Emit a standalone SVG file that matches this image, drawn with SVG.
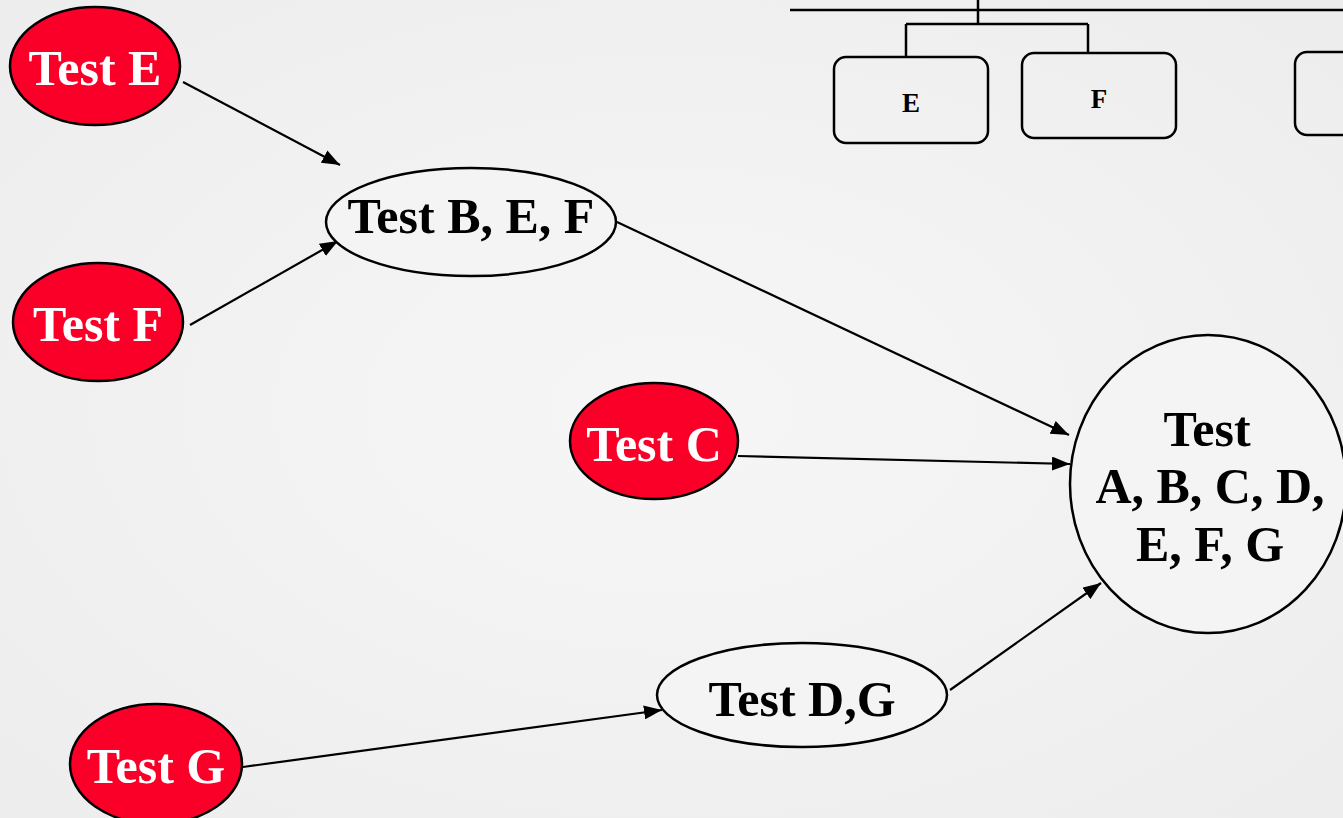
<svg xmlns="http://www.w3.org/2000/svg" width="1343" height="818" viewBox="0 0 1343 818">
<style>
.red{fill:#fa0029;stroke:#000;stroke-width:2.5}
.white{fill:#f4f4f4;stroke:#000;stroke-width:2.5}
.tw{font-family:"Liberation Serif","Times New Roman",serif;font-weight:bold;font-size:50px;fill:#fff;text-anchor:middle}
.tb{font-family:"Liberation Serif","Times New Roman",serif;font-weight:bold;font-size:50px;fill:#000;text-anchor:middle}
.ts{font-family:"Liberation Serif","Times New Roman",serif;font-weight:bold;font-size:27px;fill:#000;text-anchor:middle}
.edge{stroke:#000;stroke-width:2.2;fill:none;marker-end:url(#arr)}
.ln{stroke:#000;stroke-width:2.5;fill:none}
.box{fill:none;stroke:#000;stroke-width:2.5}
</style>
<defs>
<radialGradient id="bg" cx="0.5" cy="0.5" r="0.7">
<stop offset="0" stop-color="#f6f6f6"/>
<stop offset="1" stop-color="#ededed"/>
</radialGradient>
<marker id="arr" markerWidth="18" markerHeight="14" refX="18" refY="7" orient="auto" markerUnits="userSpaceOnUse">
<path d="M0,0 L18,7 L0,14 Z" fill="#000"/>
</marker>
</defs>
<rect width="1343" height="818" fill="url(#bg)"/>
<g id="tree">
<path class="ln" d="M790,10 H1343 M978,0 V24 M906,24 H1088 M906,24 V56 M1088,24 V53"/>
<rect class="box" x="834" y="57" width="154" height="86" rx="12"/>
<rect class="box" x="1022" y="53" width="154" height="85" rx="12"/>
<rect class="box" x="1295" y="52" width="70" height="83" rx="12"/>
<text class="ts" x="911" y="112">E</text>
<text class="ts" x="1099" y="108">F</text>
</g>
<g id="connectors">
<line class="edge" x1="183" y1="82" x2="340" y2="165"/>
<line class="edge" x1="190" y1="325" x2="338" y2="241"/>
<line class="edge" x1="617" y1="222" x2="1069" y2="435"/>
<line class="edge" x1="738" y1="456" x2="1070" y2="464"/>
<line class="edge" x1="243" y1="767" x2="662" y2="710"/>
<line class="edge" x1="950" y1="690" x2="1101" y2="583"/>
</g>
<g id="testE"><ellipse class="red" cx="95" cy="66" rx="85" ry="59"/><text class="tw" x="95" y="85">Test E</text></g>
<g id="testF"><ellipse class="red" cx="98" cy="322" rx="85" ry="59"/><text class="tw" x="98" y="341">Test F</text></g>
<g id="testBEF"><ellipse class="white" cx="471" cy="222" rx="145" ry="54"/><text class="tb" x="471" y="233">Test B, E, F</text></g>
<g id="testC"><ellipse class="red" cx="654" cy="441" rx="84" ry="58"/><text class="tw" x="654" y="461">Test C</text></g>
<g id="testDG"><ellipse class="white" cx="802" cy="695" rx="145" ry="52"/><text class="tb" x="802" y="716">Test D,G</text></g>
<g id="testG"><ellipse class="red" cx="156" cy="764" rx="86" ry="60"/><text class="tw" x="156" y="783">Test G</text></g>
<g id="testAll"><ellipse class="white" cx="1208" cy="484" rx="138" ry="149"/>
<text class="tb" x="1207" y="446">Test</text>
<text class="tb" x="1210" y="503">A, B, C, D,</text>
<text class="tb" x="1210" y="561">E, F, G</text></g>
</svg>
